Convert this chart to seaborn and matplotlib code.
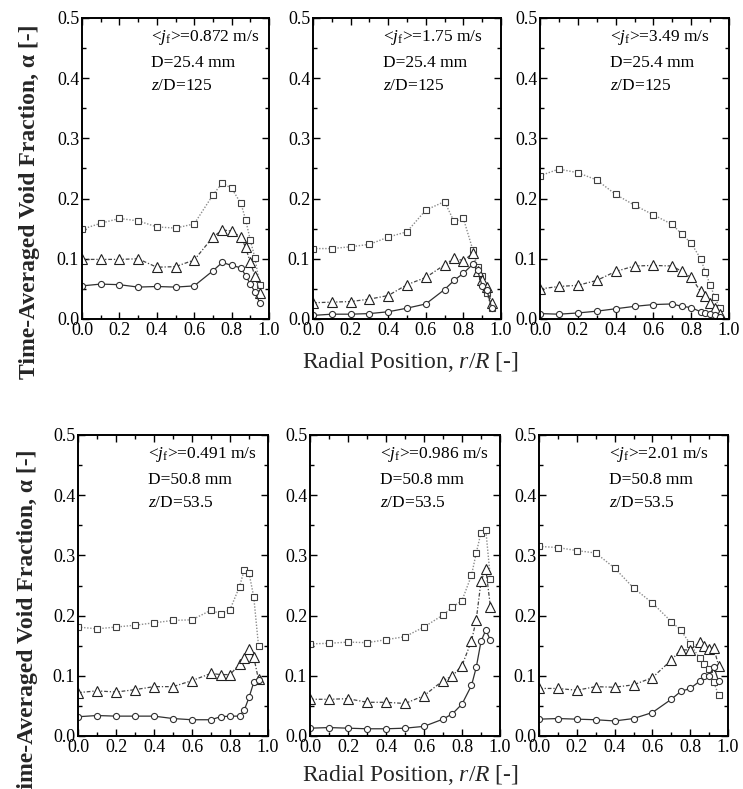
import matplotlib
matplotlib.use("Agg")
import matplotlib.pyplot as plt
from matplotlib.ticker import MultipleLocator
import pandas as pd
import seaborn as sns

# Radial measurement positions r/R
r_pos = [0.0, 0.1, 0.2, 0.3, 0.4, 0.5, 0.6, 0.7, 0.75, 0.8, 0.85, 0.875, 0.9, 0.925, 0.95]

# Flow conditions for each panel
jf_vals = ["0.872", "1.75", "3.49", "0.491", "0.986", "2.01"]
d_vals = ["25.4", "25.4", "25.4", "50.8", "50.8", "50.8"]
zd_vals = ["125", "125", "125", "53.5", "53.5", "53.5"]

# Void fraction profiles: squares / triangles / circles
p1_sq = [0.149, 0.159, 0.167, 0.163, 0.153, 0.151, 0.158, 0.206, 0.226, 0.217, 0.192, 0.165, 0.131, 0.101, 0.057]
p1_tr = [0.099, 0.099, 0.099, 0.100, 0.086, 0.087, 0.098, 0.136, 0.148, 0.146, 0.136, 0.119, 0.094, 0.072, 0.043]
p1_ci = [0.055, 0.058, 0.057, 0.053, 0.054, 0.053, 0.055, 0.080, 0.094, 0.089, 0.085, 0.072, 0.058, 0.045, 0.027]

p2_sq = [0.117, 0.117, 0.120, 0.124, 0.136, 0.145, 0.181, 0.195, 0.162, 0.167, 0.115, 0.087, 0.072, 0.043, 0.018]
p2_tr = [0.027, 0.028, 0.029, 0.033, 0.039, 0.057, 0.069, 0.090, 0.101, 0.097, 0.109, 0.079, 0.065, 0.053, 0.026]
p2_ci = [0.006, 0.008, 0.008, 0.009, 0.012, 0.018, 0.025, 0.049, 0.064, 0.076, 0.091, 0.081, 0.055, 0.048, 0.019]

p3_sq = [0.238, 0.249, 0.243, 0.231, 0.207, 0.189, 0.173, 0.157, 0.141, 0.126, 0.100, 0.078, 0.057, 0.036, 0.019]
p3_tr = [0.050, 0.054, 0.056, 0.064, 0.079, 0.088, 0.089, 0.088, 0.079, 0.069, 0.046, 0.038, 0.027, 0.018, 0.009]
p3_ci = [0.009, 0.008, 0.010, 0.013, 0.017, 0.021, 0.024, 0.025, 0.021, 0.019, 0.012, 0.010, 0.008, 0.006, 0.004]

p4_sq = [0.181, 0.178, 0.181, 0.184, 0.188, 0.192, 0.193, 0.209, 0.203, 0.210, 0.248, 0.276, 0.271, 0.231, 0.150]
p4_tr = [0.072, 0.075, 0.073, 0.077, 0.082, 0.082, 0.092, 0.104, 0.102, 0.102, 0.119, 0.129, 0.144, 0.131, 0.094]
p4_ci = [0.032, 0.034, 0.033, 0.033, 0.033, 0.029, 0.027, 0.027, 0.032, 0.033, 0.033, 0.043, 0.064, 0.089, 0.093]

p5_sq = [0.153, 0.154, 0.156, 0.155, 0.160, 0.165, 0.181, 0.201, 0.214, 0.225, 0.267, 0.304, 0.338, 0.343, 0.260]
p5_tr = [0.061, 0.061, 0.062, 0.056, 0.056, 0.054, 0.067, 0.092, 0.100, 0.117, 0.158, 0.193, 0.257, 0.278, 0.214]
p5_ci = [0.013, 0.014, 0.013, 0.012, 0.012, 0.013, 0.016, 0.028, 0.037, 0.053, 0.084, 0.114, 0.157, 0.176, 0.159]

p6_sq = [0.315, 0.313, 0.308, 0.304, 0.279, 0.246, 0.221, 0.190, 0.176, 0.153, 0.129, 0.119, 0.111, 0.089, 0.068]
p6_tr = [0.079, 0.079, 0.076, 0.082, 0.081, 0.085, 0.097, 0.126, 0.143, 0.143, 0.156, 0.150, 0.144, 0.146, 0.117]
p6_ci = [0.028, 0.029, 0.028, 0.027, 0.025, 0.029, 0.039, 0.061, 0.074, 0.079, 0.091, 0.099, 0.100, 0.115, 0.091]

panels = [(p1_sq, p1_tr, p1_ci), (p2_sq, p2_tr, p2_ci), (p3_sq, p3_tr, p3_ci),
          (p4_sq, p4_tr, p4_ci), (p5_sq, p5_tr, p5_ci), (p6_sq, p6_tr, p6_ci)]

sns.set_theme(style="ticks")
plt.rcParams["font.family"] = ["Liberation Serif", "DejaVu Serif"]
plt.rcParams["mathtext.fontset"] = "custom"
plt.rcParams["mathtext.rm"] = "Liberation Serif"
plt.rcParams["mathtext.it"] = "Liberation Serif:italic"
plt.rcParams["mathtext.bf"] = "Liberation Serif:bold"

W, H = 743, 789
fig = plt.figure(figsize=(W / 100, H / 100), dpi=100)

# axes boxes in pixels: (left, right, top, bottom)
boxes = [(82, 269, 18, 319), (313, 501, 18, 319), (540, 729, 18, 319),
         (78, 268, 435, 736), (310, 500, 435, 736), (539, 728, 435, 736)]

series_style = [
    dict(marker="s", ms=4.0, mec="#404040", mfc="white", mew=0.8,
         color="#8c8c8c", ls=(0, (1, 1.2)), lw=1.0),
    dict(marker="^", ms=7.5, mec="#202020", mfc="white", mew=0.8,
         color="#454545", ls=(0, (3, 1.5, 1, 1.5)), lw=0.9),
    dict(marker="o", ms=4.4, mec="#303030", mfc="white", mew=0.8,
         color="#303030", ls="-", lw=0.9),
]

for i, (box, series) in enumerate(zip(boxes, panels)):
    x0, x1, y0, y1 = box
    ax = fig.add_axes([x0 / W, 1 - y1 / H, (x1 - x0) / W, (y1 - y0) / H])
    for vals, st in zip(series, series_style):
        df = pd.DataFrame({"r": r_pos, "alpha": vals})
        sns.lineplot(data=df, x="r", y="alpha", ax=ax, sort=False, estimator=None,
                     marker=st["marker"], markersize=st["ms"],
                     markeredgecolor=st["mec"], markerfacecolor=st["mfc"],
                     markeredgewidth=st["mew"], color=st["color"],
                     linestyle=st["ls"], linewidth=st["lw"])
    ax.set_xlim(0, 1.0)
    ax.set_ylim(0, 0.5)
    ax.xaxis.set_major_locator(MultipleLocator(0.2))
    ax.xaxis.set_minor_locator(MultipleLocator(0.1))
    ax.yaxis.set_major_locator(MultipleLocator(0.1))
    ax.yaxis.set_minor_locator(MultipleLocator(0.05))
    ax.xaxis.set_major_formatter(plt.FormatStrFormatter("%.1f"))
    ax.yaxis.set_major_formatter(plt.FormatStrFormatter("%.1f"))
    ax.tick_params(which="both", direction="in", top=True, right=True,
                   color="black", width=1.0, labelsize=13, pad=2,
                   labelcolor="black")
    ax.tick_params(which="major", length=5)
    ax.tick_params(which="minor", length=3)
    for sp in ax.spines.values():
        sp.set_linewidth(1.4)
        sp.set_color("black")
    ax.set_xlabel("")
    ax.set_ylabel("")
    ax.set_facecolor("white")

    tx = 0.37
    ax.text(tx, 0.935, r"<$j_{\mathrm{f}}$>=" + jf_vals[i] + " m/s", transform=ax.transAxes,
            fontsize=12.5, ha="left", va="center", color="black")
    ax.text(tx, 0.85, "D=" + d_vals[i] + " mm", transform=ax.transAxes,
            fontsize=12.5, ha="left", va="center", color="black")
    ax.text(tx, 0.775, r"$z$/D=" + zd_vals[i], transform=ax.transAxes,
            fontsize=12.5, ha="left", va="center", color="black")

ylab = "Time-Averaged Void Fraction, \u03b1 [-]"
xlab = r"Radial Position, $r/R$ [-]"
fig.text(30 / W, 1 - 202 / H, ylab, rotation=90,
         ha="center", va="center", fontsize=17, fontweight="bold")
fig.text(28 / W, 1 - 627 / H, ylab, rotation=90,
         ha="center", va="center", fontsize=17, fontweight="bold")
fig.text(410 / W, 1 - 362 / H, xlab, ha="center", va="center", fontsize=17)
fig.text(410 / W, 1 - 775 / H, xlab, ha="center", va="center", fontsize=17)

fig.savefig("out.png", dpi=100, facecolor="white")
